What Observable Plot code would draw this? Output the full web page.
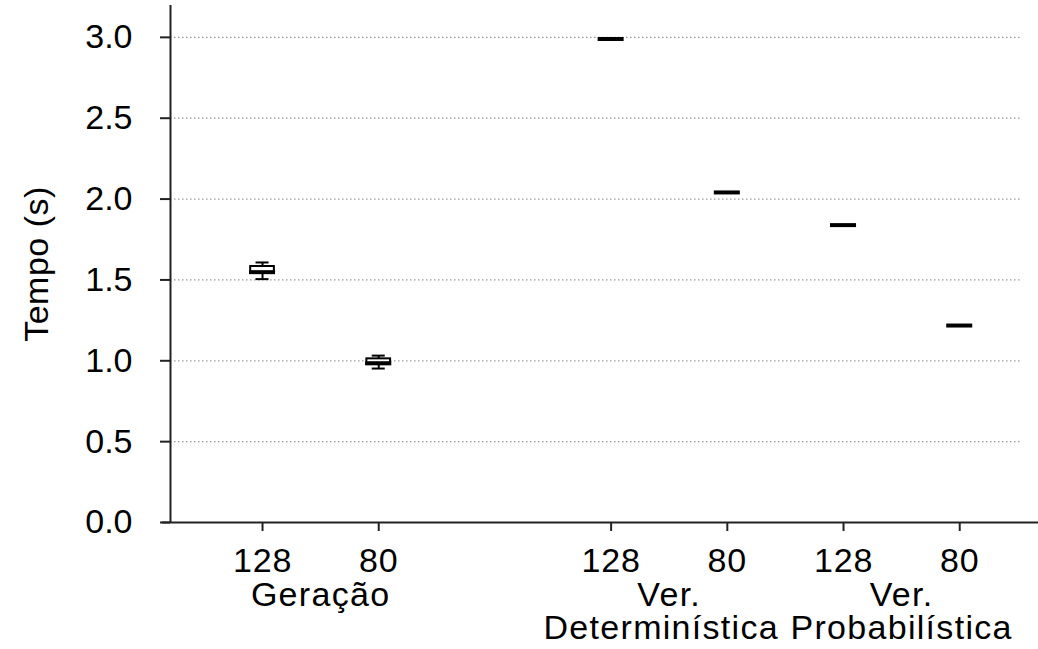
<!DOCTYPE html>
<html><head><meta charset="utf-8">
<script src="https://cdn.jsdelivr.net/npm/d3@7"></script>
<script src="https://cdn.jsdelivr.net/npm/@observablehq/plot@0.6"></script>
<style>body{margin:0;background:#fff;overflow:hidden}</style>
</head><body><div id="chart"></div>
<script>
// Data
const categories = ["128", "80", "128", "80", "128", "80"];
const groupOf = [0, 0, 1, 1, 2, 2];
const groupLabels = ["Geração", "Ver.\nDeterminística", "Ver.\nProbabilística"];
const lowWhisker  = [1.505, 0.952, 2.990, 2.041, 1.839, 1.218];
const q1          = [1.540, 0.976, 2.990, 2.041, 1.839, 1.218];
const median      = [1.548, 0.985, 2.990, 2.041, 1.839, 1.218];
const q3          = [1.583, 1.012, 2.990, 2.041, 1.839, 1.218];
const highWhisker = [1.608, 1.032, 2.990, 2.041, 1.839, 1.218];
const yTicks = [0, 0.5, 1, 1.5, 2, 2.5, 3];
const yLabel = "Tempo (s)";

const boxes = categories.map((c, i) => ({
  cat: c,
  slot: i + 1 + (groupOf[i] > 0 ? 1 : 0),
  lo: lowWhisker[i], q1: q1[i], med: median[i], q3: q3[i], hi: highWhisker[i]
}));
const groups = groupLabels.map((g, k) => {
  const s = boxes.filter((b, i) => groupOf[i] === k).map(b => b.slot);
  return {label: g, slot: d3.mean(s)};
});
const hw = 0.112, cw = 0.056;
const font = "Liberation Sans, Arial, sans-serif";
const fs = 34;

const chart = Plot.plot({
  width: 1038, height: 649,
  marginLeft: 170, marginRight: 0, marginTop: 5, marginBottom: 127,
  style: {fontFamily: font, fontSize: fs + "px", color: "#000", background: "#fff"},
  x: {type: "linear", domain: [0.208, 7.678], axis: null},
  y: {domain: [0, 3.197], axis: null},
  marks: [
    Plot.ruleY(yTicks.filter(t => t > 0), {stroke: "#9a9a9a", strokeWidth: 1.3, strokeDasharray: "1.5,2.5", insetRight: 18}),
    Plot.axisY({ticks: yTicks, tickFormat: d3.format(".1f"), tickSize: 10, tickPadding: 28, fontSize: fs, stroke: "#222", strokeWidth: 2, label: null}),
    Plot.axisX({ticks: boxes.map(b => b.slot), tickFormat: (d) => boxes.find(b => b.slot === d).cat, tickSize: 9, tickPadding: 16, fontSize: fs, stroke: "#222", strokeWidth: 2, label: null}),
    Plot.ruleX([0.208], {stroke: "#222", strokeWidth: 2}),
    Plot.ruleY([0], {stroke: "#222", strokeWidth: 2, insetLeft: -8}),
    // whiskers
    Plot.ruleX(boxes, {x: "slot", y1: "q3", y2: "hi", stroke: "#000", strokeWidth: 2}),
    Plot.ruleX(boxes, {x: "slot", y1: "lo", y2: "q1", stroke: "#000", strokeWidth: 2}),
    Plot.ruleY(boxes.filter(b => b.hi > b.q3), {y: "hi", x1: d => d.slot - cw, x2: d => d.slot + cw, stroke: "#000", strokeWidth: 2}),
    Plot.ruleY(boxes.filter(b => b.lo < b.q1), {y: "lo", x1: d => d.slot - cw, x2: d => d.slot + cw, stroke: "#000", strokeWidth: 2}),
    // boxes
    Plot.rect(boxes.filter(b => b.q3 > b.q1), {x1: d => d.slot - hw + 0.01, x2: d => d.slot + hw - 0.01, y1: "q1", y2: "q3", fill: "#fff", stroke: "#000", strokeWidth: 2}),
    // medians
    Plot.ruleY(boxes, {y: "med", x1: d => d.slot - hw, x2: d => d.slot + hw, stroke: "#000", strokeWidth: 4}),
    // group labels
    Plot.text(groups, {x: "slot", y: 0, text: "label", dy: 60, lineAnchor: "top", lineHeight: 0.98, fontSize: fs, fill: "#000"}),
    Plot.text([yLabel], {frameAnchor: "left", dx: -133, rotate: -90, fontSize: fs, fill: "#000", textAnchor: "middle", lineAnchor: "middle"})
  ]
});
const textGroups = d3.select(chart).selectAll('g[aria-label="text"]').nodes();
if (textGroups[0]) {
  d3.select(textGroups[0]).style("letter-spacing", "1.3px");
  // nudge the second line of the middle group label left, as in the reference
  const t = d3.select(textGroups[0]).selectAll("text").nodes()[1];
  if (t) {
    const spans = d3.select(t).selectAll("tspan").nodes();
    if (spans[1]) d3.select(spans[1]).attr("dx", -8);
  }
}
if (textGroups[1]) d3.select(textGroups[1]).style("letter-spacing", "0.5px");
d3.select(chart).selectAll('g[aria-label="x-axis tick label"]').style("letter-spacing", "0.8px");
document.getElementById("chart").appendChild(chart);
</script>
</body></html>
